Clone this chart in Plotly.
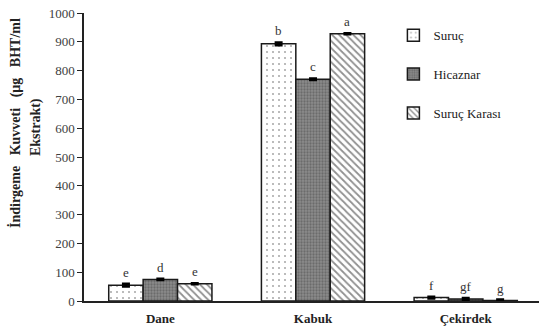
import plotly.graph_objects as go

# Sample parts (x axis) and cultivars (bar series)
categories = ["Dane", "Kabuk", "Çekirdek"]
cultivars = ["Suruç", "Hicaznar", "Suruç Karası"]

# Reducing power, µg BHT/ml extract
values = {
    "Suruç": [55, 893, 12],
    "Hicaznar": [75, 770, 7],
    "Suruç Karası": [60, 928, 2],
}
errors = {
    "Suruç": [5, 5, 3],
    "Hicaznar": [2, 3, 3],
    "Suruç Karası": [2, 2, 3],
}
# Significance letters
letters = {
    "Suruç": ["e", "b", "f"],
    "Hicaznar": ["d", "c", "gf"],
    "Suruç Karası": ["e", "a", "g"],
}

yticks = [0, 100, 200, 300, 400, 500, 600, 700, 800, 900, 1000]

# Justified title: wider gaps between words on the first line
GAP = "\u00a0" * 3
title_lines = [GAP.join(["İndirgeme", "Kuvveti", "(µg", "BHT/ml"]), "Ekstrakt)"]

styles = {
    "Suruç": dict(color="white", pattern=dict(shape=".", fgcolor="#555555", bgcolor="white", size=6, solidity=0.1)),
    "Hicaznar": dict(color="#808080", pattern=dict(shape=".", fgcolor="#4a4a4a", bgcolor="#8c8c8c", size=3, solidity=0.45)),
    "Suruç Karası": dict(color="white", pattern=dict(shape="\\", fgcolor="#222222", bgcolor="white", size=5, solidity=0.35)),
}

SERIF = "Liberation Serif"
xpos = list(range(len(categories)))
bargap = 0.324
bar_w = (1 - bargap) / len(cultivars)

fig = go.Figure()
for j, name in enumerate(cultivars):
    st = styles[name]
    fig.add_trace(go.Bar(
        x=xpos,
        y=values[name],
        name=name,
        legendgroup=name,
        marker=dict(color=st["color"], pattern=st["pattern"],
                    line=dict(color="#1a1a1a", width=1.5)),
        error_y=dict(type="data", array=errors[name], color="black",
                     thickness=2.5, width=4),
    ))
    for i in xpos:
        fig.add_annotation(
            x=i + (j - 1) * bar_w,
            y=values[name][i] + errors[name][i],
            xref="x", yref="y",
            text=letters[name][i],
            showarrow=False,
            yanchor="bottom",
            yshift=2,
            font=dict(family=SERIF, size=13, color="#333333"),
        )

# Two-line rotated y-axis title
for line, xs, yp in zip(title_lines, [-69, -48], [0.618, 0.604]):
    fig.add_annotation(
        x=0, y=yp, xref="paper", yref="paper",
        xshift=xs, text="<b>%s</b>" % line, textangle=-90,
        showarrow=False, xanchor="center", yanchor="middle",
        font=dict(family=SERIF, size=14, color="#222222"),
    )

fig.update_layout(
    width=539, height=336,
    margin=dict(l=84, r=0, t=13, b=35),
    font=dict(family=SERIF),
    barmode="group",
    bargap=bargap,
    bargroupgap=0,
    plot_bgcolor="white",
    paper_bgcolor="white",
    showlegend=True,
    legend=dict(
        x=0.68, y=0.975, xanchor="left", yanchor="top",
        font=dict(family=SERIF, size=13, color="#222222"),
        tracegroupgap=19,
        bgcolor="rgba(0,0,0,0)",
        itemwidth=30,
    ),
    xaxis=dict(
        range=[-0.5, 2.48],
        tickmode="array",
        tickvals=xpos,
        ticktext=["<b>%s</b>" % c for c in categories],
        tickfont=dict(family=SERIF, size=13, color="#222222"),
        ticklabelstandoff=5,
        showline=True, linecolor="#222222", linewidth=1.5,
        ticks="", showgrid=False, zeroline=False,
    ),
    yaxis=dict(
        range=[0, 1000],
        tickmode="array",
        tickvals=yticks,
        tickfont=dict(family=SERIF, size=13, color="#404040"),
        showline=True, linecolor="#222222", linewidth=1.5,
        ticks="outside", ticklen=5, tickcolor="#222222",
        showgrid=False, zeroline=False,
    ),
)

fig.write_html("out.html")
